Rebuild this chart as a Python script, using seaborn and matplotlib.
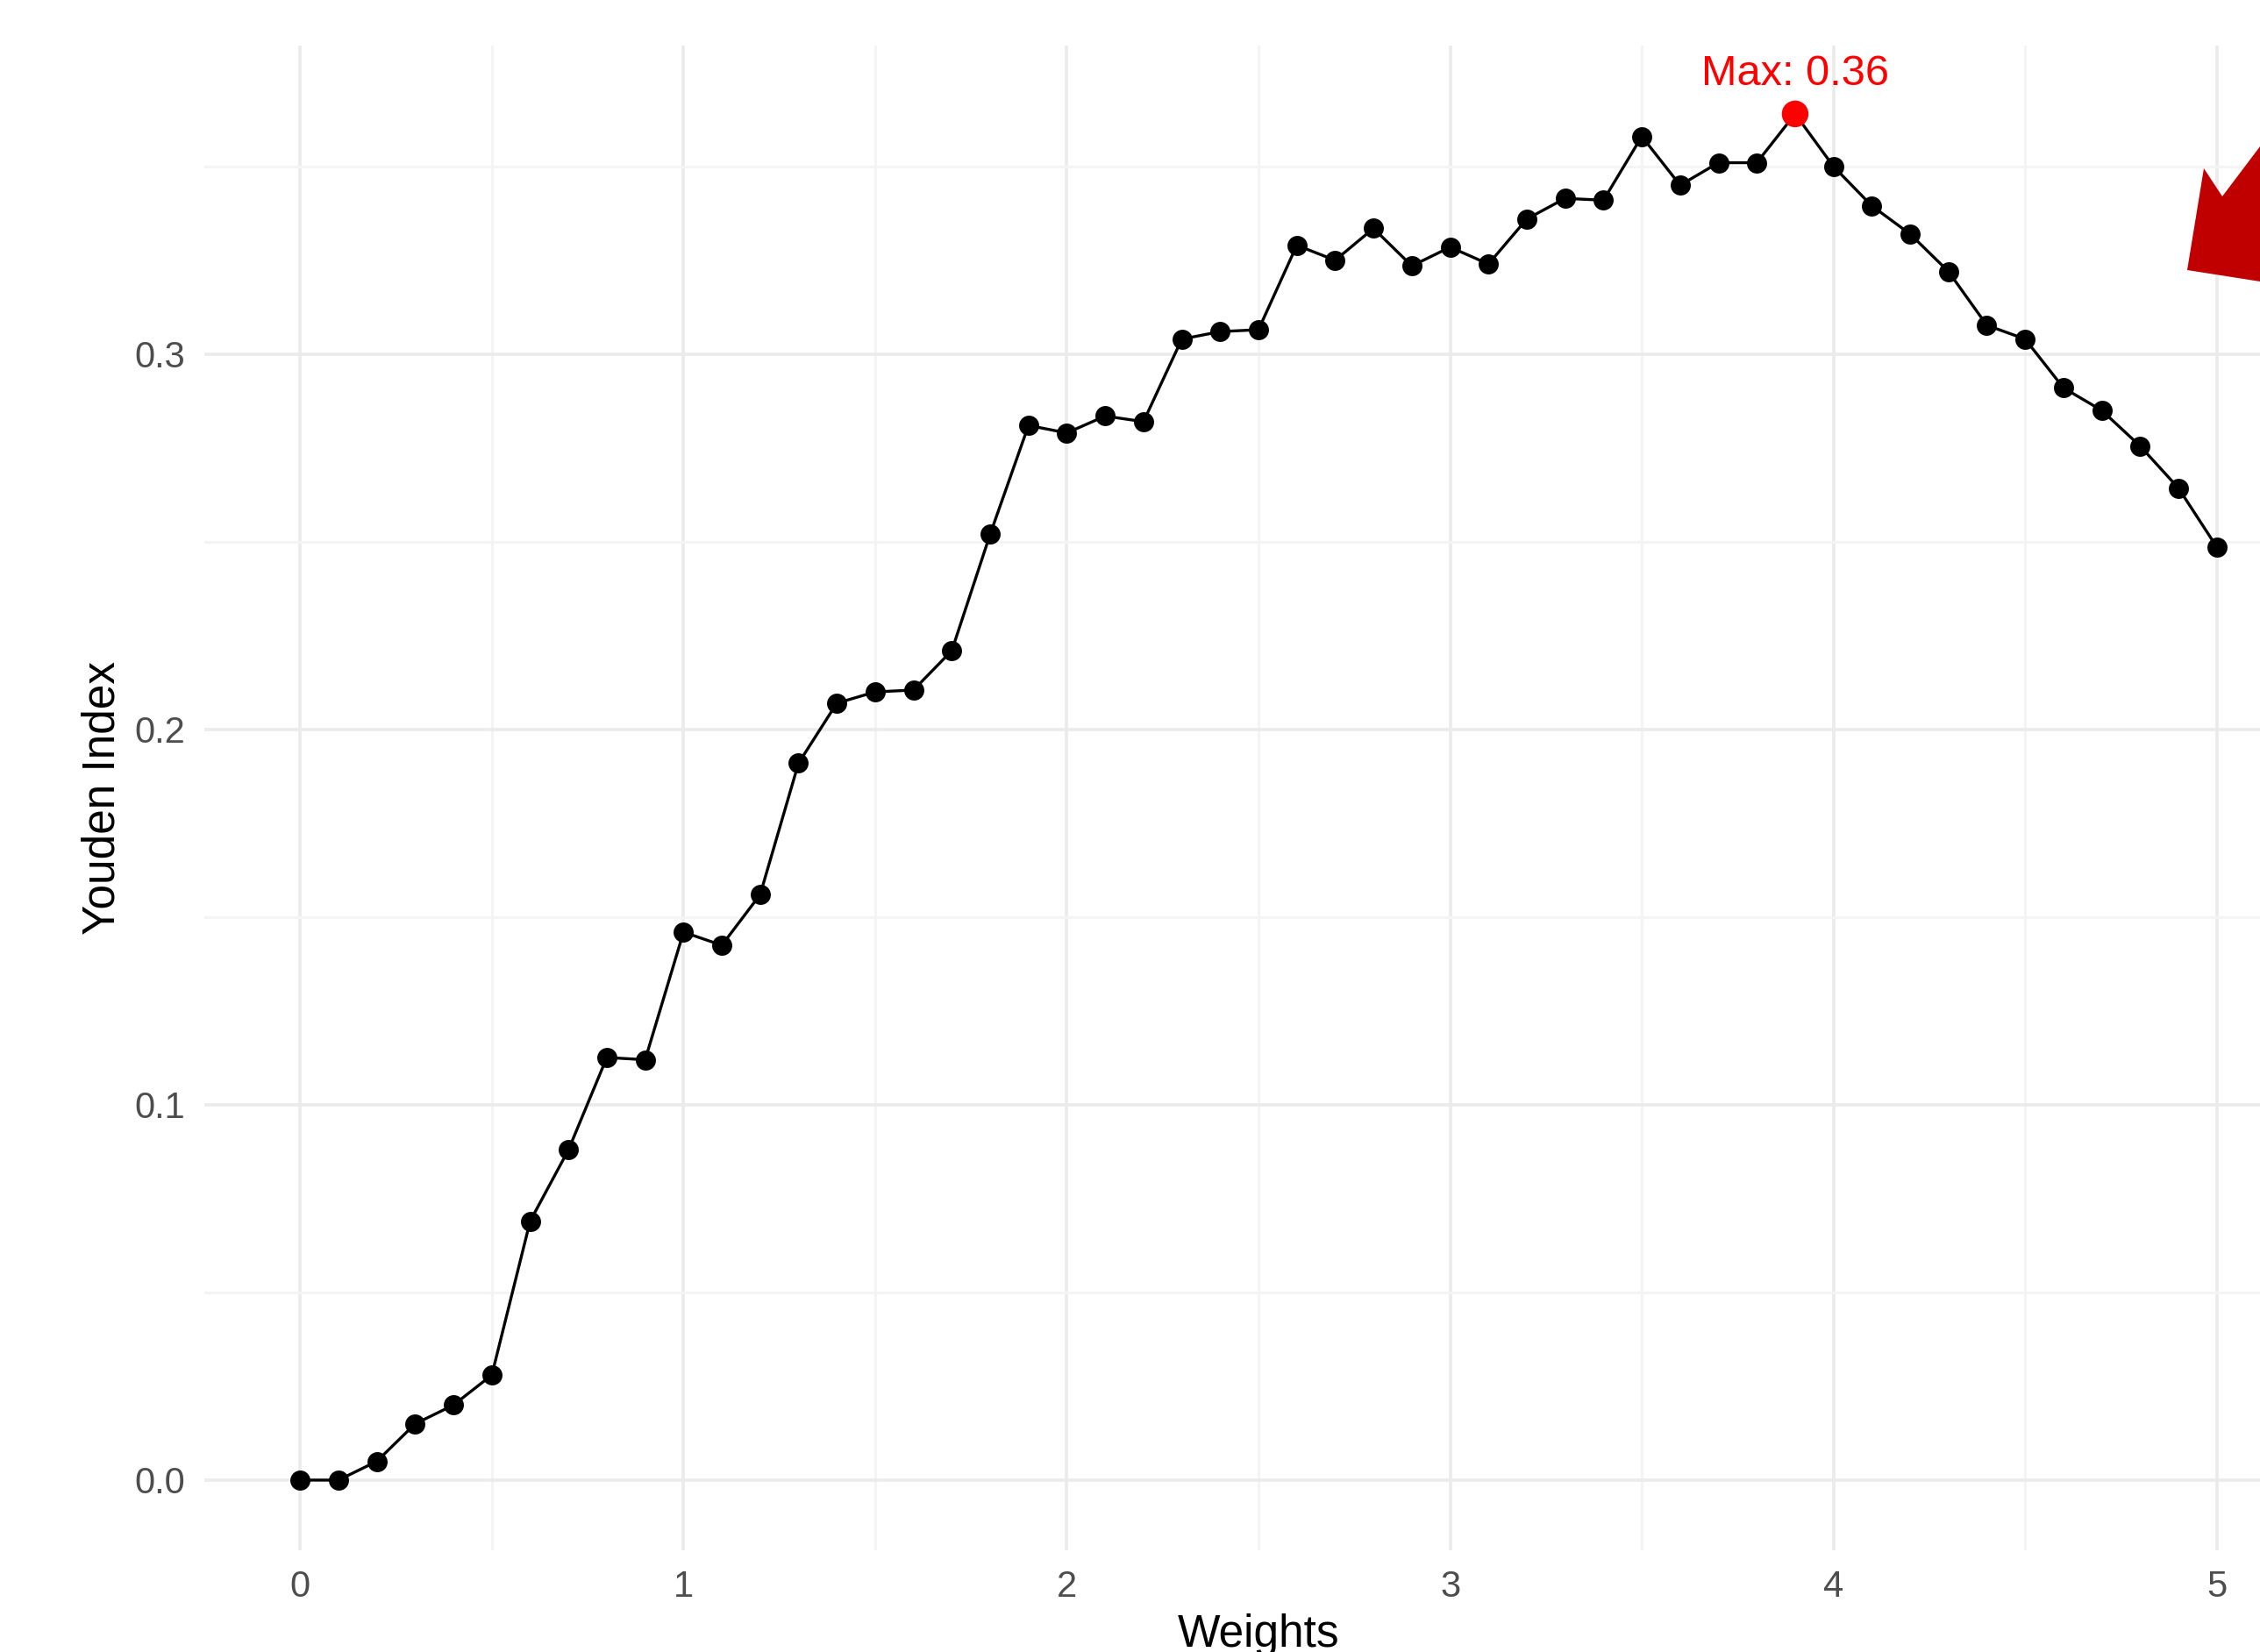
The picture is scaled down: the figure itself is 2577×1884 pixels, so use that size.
import numpy as np
import pandas as pd
import matplotlib
matplotlib.use('Agg')
import matplotlib.pyplot as plt
from matplotlib.ticker import MultipleLocator, FormatStrFormatter
from matplotlib.patches import Polygon
import seaborn as sns

# ─── Data ────────────────────────────────────────────────────
weights = np.round(np.arange(0, 5.01, 0.1), 1)
youden = [0.000, 0.000, 0.005, 0.015, 0.020, 0.028, 0.069, 0.088, 0.1126, 0.112,
          0.146, 0.1425, 0.156, 0.191, 0.207, 0.210, 0.2105, 0.221, 0.252, 0.281,
          0.279, 0.2835, 0.282, 0.304, 0.306, 0.3065, 0.329, 0.325, 0.3335, 0.3235,
          0.3285, 0.324, 0.336, 0.3415, 0.341, 0.358, 0.345, 0.351, 0.351, 0.364,
          0.350, 0.3395, 0.332, 0.322, 0.3077, 0.304, 0.291, 0.285, 0.2755, 0.2643,
          0.2486]

df = pd.DataFrame({'weights': weights, 'youden': youden})
best = df.loc[df['youden'].idxmax()]

# ─── Figure ──────────────────────────────────────────────────
W, H = 2577, 1884
sns.set_theme(style="white")
plt.rcParams['font.family'] = ['Liberation Sans', 'DejaVu Sans']

fig = plt.figure(figsize=(W / 100, H / 100), dpi=100)
ax = fig.add_axes([233 / W, 116 / H, (2637 - 233) / W, (1768 - 52) / H])

sns.lineplot(data=df, x='weights', y='youden', color='black', linewidth=2.4,
             marker='o', markersize=16.5, markeredgewidth=0, ax=ax, zorder=3)
sns.scatterplot(x=[best['weights']], y=[best['youden']], color='red', s=480,
                edgecolor='none', ax=ax, zorder=4)
ax.annotate(f"Max: {best['youden']:.2f}", (best['weights'], best['youden']),
            xytext=(0, 24), textcoords='offset points', ha='center', va='baseline',
            color='red', fontsize=35)

ax.set_xlim(-0.25, 5.25)
ax.set_ylim(-0.0187, 0.3822)
ax.xaxis.set_major_locator(MultipleLocator(1))
ax.xaxis.set_minor_locator(MultipleLocator(0.5))
ax.yaxis.set_major_locator(MultipleLocator(0.1))
ax.yaxis.set_minor_locator(MultipleLocator(0.05))
ax.yaxis.set_major_formatter(FormatStrFormatter('%.1f'))

ax.grid(which='major', color='#EBEBEB', linewidth=2.6)
ax.grid(which='minor', color='#F4F4F4', linewidth=2.2)
ax.set_axisbelow(True)
for s in ax.spines.values():
    s.set_visible(False)
ax.tick_params(which='both', length=0)
ax.tick_params(axis='x', labelsize=30, labelcolor='#4D4D4D', pad=16)
ax.tick_params(axis='y', labelsize=30, labelcolor='#4D4D4D', pad=16)

ax.set_xlabel("Weights", fontsize=37, color='black')
ax.set_ylabel("Youden Index", fontsize=37, color='black')
ax.xaxis.set_label_coords(0.5, -0.042)
ax.xaxis.label.set_va('top')
ax.yaxis.set_label_coords(-0.038, 0.5)

# ─── Red block arrow overlay (top right, cropped) ────────────
arrow_px = [(2494, 308), (2513, 192), (2534, 224), (2577, 167),
            (2640, 90), (2720, 300), (2577, 321)]
arrow = Polygon([(x / W, 1 - y / H) for x, y in arrow_px], closed=True,
                facecolor='#C00000', edgecolor='none', transform=fig.transFigure)
fig.patches.append(arrow)

fig.savefig('out.png', dpi=100)
